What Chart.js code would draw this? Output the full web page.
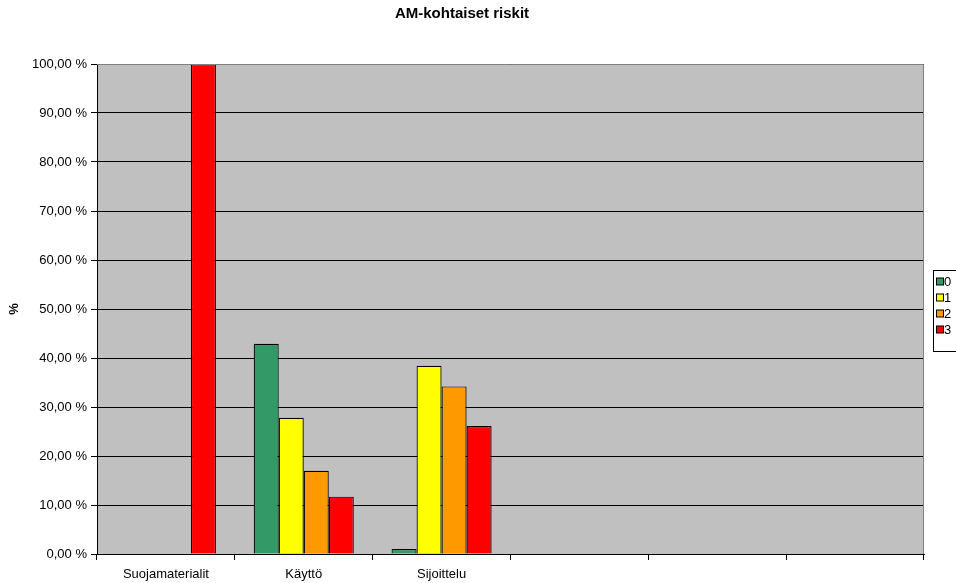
<!DOCTYPE html>
<html>
<head>
<meta charset="utf-8">
<title>AM-kohtaiset riskit</title>
<script src="https://cdn.jsdelivr.net/npm/chart.js@4/dist/chart.umd.min.js"></script>
<style>
  html, body { margin: 0; padding: 0; background: #fff; }
  #wrap { width: 956px; height: 583px; position: relative; overflow: hidden; }
</style>
</head>
<body>
<div id="wrap"><canvas id="riskChart" width="956" height="583"></canvas></div>
<script>
// categories (the last three slots are empty in the sheet)
const categories = ["Suojamaterialit", "Käyttö", "Sijoittelu", "", "", ""];
const riskLevels = ["0", "1", "2", "3"];

// share of answers per risk level, percent
const level0 = [0, 42.9, 1.0, null, null, null];
const level1 = [0, 27.8, 38.4, null, null, null];
const level2 = [0, 17.0, 34.2, null, null, null];
const level3 = [100, 11.7, 26.1, null, null, null];

const levelColors = ["#339966", "#ffff00", "#ff9900", "#ff0000"];

const FONT = "Arial, 'Liberation Sans', sans-serif";

function fmtPct(v) {
  return Number(v).toFixed(2).replace(".", ",") + " %";
}

// grey plot area + grey frame on top/right
const plotArea = {
  id: "plotArea",
  beforeDraw(chart) {
    const { ctx, chartArea: a } = chart;
    ctx.save();
    ctx.fillStyle = "#c0c0c0";
    ctx.fillRect(a.left, a.top, a.right - a.left, a.bottom - a.top);
    ctx.restore();
  },
  afterDraw(chart) {
    const { ctx, chartArea: a } = chart;
    ctx.save();
    ctx.strokeStyle = "#808080";
    ctx.lineWidth = 1;
    ctx.beginPath();
    ctx.moveTo(a.left, a.top + 0.5);
    ctx.lineTo(a.right - 0.5, a.top + 0.5);
    ctx.lineTo(a.right - 0.5, a.bottom);
    ctx.stroke();
    ctx.restore();
  }
};

// boxed legend on the right edge
const sideLegend = {
  id: "sideLegend",
  afterDraw(chart) {
    const ctx = chart.ctx;
    const x = 933, y = 270, rowH = 16;
    const sets = chart.data.datasets;
    ctx.save();
    ctx.fillStyle = "#ffffff";
    ctx.fillRect(x, y, 40, 81);
    ctx.strokeStyle = "#000";
    ctx.lineWidth = 1;
    ctx.strokeRect(x + 0.5, y + 0.5, 40, 81);
    ctx.font = "13px " + FONT;
    ctx.textBaseline = "middle";
    sets.forEach((ds, i) => {
      const cy = y + 11.5 + i * rowH;
      ctx.fillStyle = ds.backgroundColor;
      ctx.fillRect(x + 3.5, cy - 3.5, 7, 7);
      ctx.strokeRect(x + 3.5, cy - 3.5, 7, 7);
      ctx.fillStyle = "#000";
      ctx.fillText(ds.label, x + 11, cy + 0.5);
    });
    ctx.restore();
  }
};

const series = [level0, level1, level2, level3];

new Chart(document.getElementById("riskChart"), {
  type: "bar",
  data: {
    labels: categories,
    datasets: series.map((vals, i) => ({
      label: riskLevels[i],
      data: vals,
      backgroundColor: levelColors[i],
      borderColor: "#000",
      borderWidth: 1.2,
      categoryPercentage: 0.726,
      barPercentage: 1
    }))
  },
  options: {
    responsive: false,
    animation: false,
    layout: { padding: { top: 0, right: 32, bottom: 0, left: 0 } },
    plugins: {
      legend: { display: false },
      tooltip: { enabled: false },
      title: {
        display: true,
        text: "AM-kohtaiset riskit",
        color: "#000",
        font: { family: FONT, size: 15, weight: "bold" },
        padding: { top: 5, bottom: 41 }
      }
    },
    scales: {
      x: {
        afterFit: (s) => { s.height = 29; },
        grid: {
          display: true,
          drawOnChartArea: false,
          offset: true,
          color: "#000",
          tickLength: 6
        },
        border: { color: "#000" },
        ticks: {
          color: "#000",
          font: { family: FONT, size: 13 },
          padding: 7,
          maxRotation: 0,
          autoSkip: false
        }
      },
      y: {
        min: 0,
        max: 100,
        afterFit: (s) => { s.width = 97; },
        grid: { color: "#000", tickLength: 6 },
        border: { color: "#000" },
        ticks: {
          stepSize: 10,
          color: "#000",
          font: { family: FONT, size: 13 },
          padding: 4,
          callback: (v) => fmtPct(v)
        },
        title: {
          display: true,
          text: "%",
          color: "#000",
          font: { family: FONT, size: 13, weight: "bold" },
          padding: { top: 7, bottom: 0 }
        }
      }
    }
  },
  plugins: [plotArea, sideLegend]
});
</script>
</body>
</html>
